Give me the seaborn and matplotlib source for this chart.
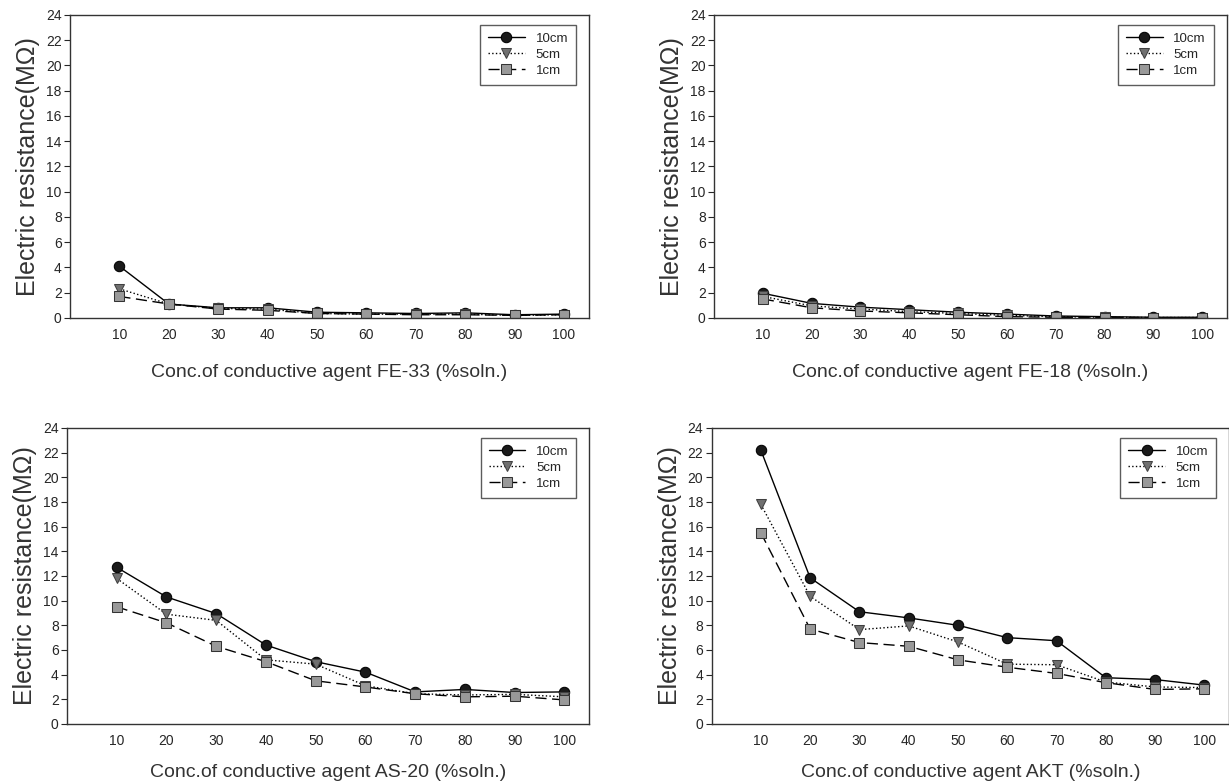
"""Electric resistance vs. concentration of conductive agent (4 panels)."""
import matplotlib
matplotlib.use("Agg")
import matplotlib.pyplot as plt
import seaborn as sns
import pandas as pd

# x values: concentration (%soln.)
conc = [10, 20, 30, 40, 50, 60, 70, 80, 90, 100]
distances = ["10cm", "5cm", "1cm"]
y_ticks = list(range(0, 25, 2))

# FE-33
fe33_10cm = [4.1, 1.1, 0.8, 0.8, 0.45, 0.4, 0.35, 0.4, 0.25, 0.3]
fe33_5cm = [2.3, 1.1, 0.75, 0.7, 0.35, 0.3, 0.3, 0.3, 0.2, 0.25]
fe33_1cm = [1.7, 1.1, 0.7, 0.6, 0.35, 0.3, 0.25, 0.25, 0.2, 0.25]

# FE-18
fe18_10cm = [1.95, 1.15, 0.85, 0.65, 0.45, 0.3, 0.15, 0.1, 0.05, 0.05]
fe18_5cm = [1.7, 0.95, 0.7, 0.5, 0.35, 0.2, 0.1, 0.05, 0.03, 0.03]
fe18_1cm = [1.5, 0.8, 0.55, 0.4, 0.25, 0.1, 0.05, 0.03, 0.02, 0.02]

# AS-20
as20_10cm = [12.7, 10.3, 8.95, 6.4, 5.05, 4.2, 2.6, 2.8, 2.55, 2.6]
as20_5cm = [11.8, 8.9, 8.4, 5.2, 4.85, 3.1, 2.45, 2.35, 2.4, 2.2]
as20_1cm = [9.5, 8.2, 6.3, 5.05, 3.5, 3.0, 2.45, 2.2, 2.25, 1.95]

# AKT
akt_10cm = [22.2, 11.85, 9.1, 8.6, 8.0, 7.0, 6.75, 3.75, 3.6, 3.15]
akt_5cm = [17.8, 10.35, 7.65, 7.95, 6.65, 4.85, 4.8, 3.4, 3.0, 2.95]
akt_1cm = [15.5, 7.7, 6.6, 6.3, 5.2, 4.6, 4.1, 3.35, 2.8, 2.85]

agents = ["FE-33", "FE-18", "AS-20", "AKT"]
panel_data = {
    "FE-33": [fe33_10cm, fe33_5cm, fe33_1cm],
    "FE-18": [fe18_10cm, fe18_5cm, fe18_1cm],
    "AS-20": [as20_10cm, as20_5cm, as20_1cm],
    "AKT": [akt_10cm, akt_5cm, akt_1cm],
}

# Stil je Abstand
styles = {
    "10cm": dict(color="black", linestyle="-", marker="o",
                 markerfacecolor="#1a1a1a", markeredgecolor="black"),
    "5cm": dict(color="black", linestyle=":", marker="v",
                markerfacecolor="#707070", markeredgecolor="#404040"),
    "1cm": dict(color="black", linestyle=(0, (8, 4)), marker="s",
                markerfacecolor="#999999", markeredgecolor="#333333"),
}

sns.set_style("white")
plt.rcParams["font.family"] = ["Liberation Sans", "DejaVu Sans"]

fig = plt.figure(figsize=(12.29, 7.83), dpi=100)
positions = [
    [0.057, 0.594, 0.422, 0.387],
    [0.581, 0.594, 0.417, 0.387],
    [0.0545, 0.0754, 0.425, 0.378],
    [0.579, 0.0754, 0.421, 0.378],
]
label_pad = [16, 16, 12, 12]

for agent, pos, pad in zip(agents, positions, label_pad):
    ax = fig.add_axes(pos)
    df = pd.DataFrame({"conc": conc})
    for dist, vals in zip(distances, panel_data[agent]):
        df[dist] = vals
        sns.lineplot(data=df, x="conc", y=dist, ax=ax, label=dist,
                     linewidth=1.0, markersize=7.5, **styles[dist])

    ax.set_xlim(0, 105)
    ax.set_ylim(0, 24)
    ax.set_xticks(conc)
    ax.set_yticks(y_ticks)
    ax.tick_params(axis="x", direction="in", length=4, labelsize=10, pad=7)
    ax.tick_params(axis="y", direction="out", length=4, labelsize=10, pad=2,
                   left=True)
    for spine in ax.spines.values():
        spine.set_color("#333333")
        spine.set_linewidth(1.0)

    ax.set_xlabel(f"Conc.of conductive agent {agent} (%soln.)",
                  fontsize=14, color="#333333", labelpad=pad)
    ax.set_ylabel("Electric resistance(MΩ)", fontsize=18, color="#333333",
                  labelpad=4)

    leg = ax.legend(loc="upper right", bbox_to_anchor=(0.988, 0.99),
                    fontsize=9.5, frameon=True, fancybox=False,
                    handlelength=2.8, borderpad=0.6, labelspacing=0.3,
                    handletextpad=0.8)
    leg.get_frame().set_edgecolor("#333333")
    leg.get_frame().set_linewidth(1.0)

plt.savefig("out.png", dpi=100)
plt.close()
